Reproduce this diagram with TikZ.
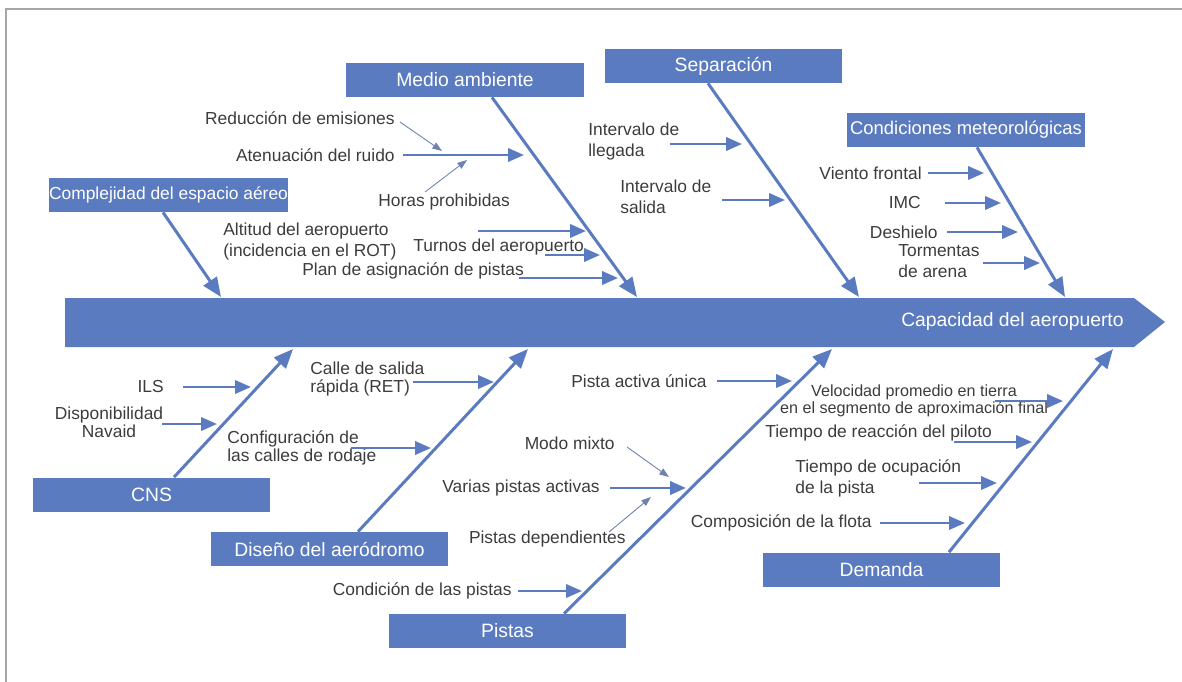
\documentclass[tikz,border=0pt]{standalone}
\usepackage{fontspec}
\setmainfont{Liberation Sans}
\usetikzlibrary{arrows.meta}

\definecolor{fishblue}{RGB}{91,123,192}
\definecolor{labelgray}{RGB}{60,60,60}
\definecolor{thinblue}{RGB}{110,130,175}

\tikzset{
  catbox/.style={fill=fishblue, text=white, minimum width=4.76cm, minimum height=0.68cm, inner sep=0pt, font=\fontsize{11}{13}\selectfont},
  cause/.style={text=labelgray, inner sep=0pt, font=\fontsize{9.9}{12}\selectfont},
  tight/.style={font=\fontsize{9.9}{10.2}\selectfont},
  bone/.style={draw=fishblue, line width=1.7pt, -{Triangle[length=11pt,width=9pt]}},
  twig/.style={draw=fishblue, line width=1.5pt, -{Triangle[length=9pt,width=7.5pt]}},
  hint/.style={draw=thinblue, line width=0.5pt, -{Triangle[length=5.5pt,width=4pt]}}
}

\begin{document}
\begin{tikzpicture}[x=0.02cm, y=-0.02cm]
		\useasboundingbox (0,0) rectangle (1182,682);
		\draw[gray!70, line width=1.2pt] (6,682) -- (6,9) -- (1182,9);
		
		% Hauptachse
		\fill[fishblue] (65,298) -- (1134,298) -- (1165,322) -- (1134,347) -- (65,347) -- cycle;
		\node[anchor=east, text=white, inner sep=0pt, font=\fontsize{11}{13}\selectfont] (kopf) at (1124,322) {Capacidad del aeropuerto};
		
		% Medio ambiente
		\node[catbox] (medio) at (465,80) {Medio ambiente};
		\coordinate (medio1) at (637,297);
		\draw[bone] ([xshift=0.54cm]medio.south) -- (medio1);
		\node[cause, anchor=east] (redu) at (395,118) {Reducción de emisiones};
		\node[cause, anchor=east] (aten) at (395,155) {Atenuación del ruido};
		\node[cause, anchor=west] (horas) at (378,202) {Horas prohibidas};
		\node[cause, anchor=west, align=left] (alti) at (223,241.5) {Altitud del aeropuerto\\(incidencia en el ROT)};
		\node[cause, anchor=west] (turnos) at (413,247) {Turnos del aeropuerto};
		\node[cause, anchor=west] (plan) at (302,271) {Plan de asignación de pistas};
		\coordinate (aten0) at (403,155); \coordinate (aten1) at (524,155);
		\coordinate (redu0) at (400,122); \coordinate (redu1) at (442,151);
		\coordinate (horas0) at (425,192); \coordinate (horas1) at (467,160);
		\coordinate (alti0) at (478,231); \coordinate (alti1) at (586,231);
		\coordinate (turnos0) at (545,255); \coordinate (turnos1) at (600,255);
		\coordinate (plan0) at (519,278); \coordinate (plan1) at (618,278);
		\draw[twig] (aten0) -- (aten1);
		\draw[hint] (redu0) -- (redu1);
		\draw[hint] (horas0) -- (horas1);
		\draw[twig] (alti0) -- (alti1);
		\draw[twig] (turnos0) -- (turnos1);
		\draw[twig] (plan0) -- (plan1);
		
		% Separacion
		\node[catbox] (sepa) at (723.5,66) {Separación};
		\coordinate (sepa1) at (859,297);
		\draw[bone] ([xshift=-0.31cm]sepa.south) -- (sepa1);
		\node[cause, anchor=west, align=left] (lleg) at (588,141.5) {Intervalo de\\llegada};
		\node[cause, anchor=west, align=left] (sali) at (620,196.5) {Intervalo de\\salida};
		\coordinate (lleg0) at (670,144); \coordinate (lleg1) at (742,144);
		\coordinate (sali0) at (722,200); \coordinate (sali1) at (785,200);
		\draw[twig] (lleg0) -- (lleg1);
		\draw[twig] (sali0) -- (sali1);
		
		% Condiciones meteorologicas
		\node[catbox, font=\fontsize{10.5}{12}\selectfont] (meteo) at (966,130) {Condiciones meteorológicas};
		\coordinate (meteo1) at (1065,297);
		\draw[bone] ([xshift=0.22cm]meteo.south) -- (meteo1);
		\node[cause, anchor=east] (viento) at (922,173) {Viento frontal};
		\node[cause, anchor=east] (imc) at (921,203) {IMC};
		\node[cause, anchor=east] (desh) at (938,232) {Deshielo};
		\node[cause, anchor=west, align=left] (torm) at (898,261.5) {Tormentas\\de arena};
		\coordinate (viento0) at (928,173); \coordinate (viento1) at (984,173);
		\coordinate (imc0) at (945,203); \coordinate (imc1) at (1001,203);
		\coordinate (desh0) at (947,232); \coordinate (desh1) at (1018,232);
		\coordinate (torm0) at (983,263); \coordinate (torm1) at (1040,263);
		\draw[twig] (viento0) -- (viento1);
		\draw[twig] (imc0) -- (imc1);
		\draw[twig] (desh0) -- (desh1);
		\draw[twig] (torm0) -- (torm1);
		
		% Complejidad del espacio aereo
		\node[catbox, font=\fontsize{9.9}{12}\selectfont] (compl) at (168.5,195) {Complejidad del espacio aéreo};
		\coordinate (compl1) at (221,297);
		\draw[bone] ([xshift=-0.11cm]compl.south) -- (compl1);
		
		% CNS
		\node[catbox] (cns) at (151.5,494.5) {CNS};
		\coordinate (cns1) at (293,349);
		\draw[bone] ([xshift=0.45cm]cns.north) -- (cns1);
		\node[cause, anchor=east] (ils) at (164,387) {ILS};
		\node[cause, tight, align=center] (navaid) at (109,422.5) {Disponibilidad\\Navaid};
		\coordinate (ils0) at (183,387); \coordinate (ils1) at (251,387);
		\coordinate (navaid0) at (162,424); \coordinate (navaid1) at (217,424);
		\draw[twig] (ils0) -- (ils1);
		\draw[twig] (navaid0) -- (navaid1);
		
		% Diseno del aerodromo
		\node[catbox] (diseno) at (329.5,549) {Diseño del aeródromo};
		\coordinate (diseno1) at (528,349);
		\draw[bone] ([xshift=0.57cm]diseno.north) -- (diseno1);
		\node[cause, tight, anchor=west, align=left] (ret) at (310,379) {Calle de salida\\rápida (RET)};
		\node[cause, tight, anchor=west, align=left] (rodaje) at (227,448) {Configuración de\\las calles de rodaje};
		\coordinate (ret0) at (413,382); \coordinate (ret1) at (494,382);
		\coordinate (rodaje0) at (351,448); \coordinate (rodaje1) at (431,448);
		\draw[twig] (ret0) -- (ret1);
		\draw[twig] (rodaje0) -- (rodaje1);
		
		% Pistas
		\node[catbox] (pistas) at (507.5,631) {Pistas};
		\coordinate (pistas1) at (832,349);
		\draw[bone] ([xshift=1.13cm]pistas.north) -- (pistas1);
		\node[cause, anchor=east] (unica) at (707,381) {Pista activa única};
		\node[cause, anchor=east] (mixto) at (615,443) {Modo mixto};
		\node[cause, anchor=east] (varias) at (600,488) {Varias pistas activas};
		\node[cause, anchor=east] (depend) at (626,539) {Pistas dependientes};
		\node[cause, anchor=east] (condi) at (512,591) {Condición de las pistas};
		\coordinate (unica0) at (717,381); \coordinate (unica1) at (792,381);
		\coordinate (mixto0) at (627,447); \coordinate (mixto1) at (669,477);
		\coordinate (varias0) at (610,488); \coordinate (varias1) at (686,488);
		\coordinate (depend0) at (609,532); \coordinate (depend1) at (651,497);
		\coordinate (condi0) at (518,591); \coordinate (condi1) at (582,591);
		\draw[twig] (unica0) -- (unica1);
		\draw[hint] (mixto0) -- (mixto1);
		\draw[twig] (varias0) -- (varias1);
		\draw[hint] (depend0) -- (depend1);
		\draw[twig] (condi0) -- (condi1);
		
		% Demanda
		\node[catbox] (demanda) at (881.5,569.5) {Demanda};
		\coordinate (demanda1) at (1113,349);
		\draw[bone] ([xshift=1.35cm]demanda.north) -- (demanda1);
		\node[cause, align=center, font=\fontsize{9.2}{9.6}\selectfont] (velo) at (914,401) {Velocidad promedio en tierra\\en el segmento de aproximación final};
		\node[cause, anchor=west] (reac) at (765,433) {Tiempo de reacción del piloto};
		\node[cause, anchor=west, align=left] (ocup) at (795,478.5) {Tiempo de ocupación\\de la pista};
		\node[cause, anchor=east] (flota) at (872,523) {Composición de la flota};
		\coordinate (velo0) at (995,401); \coordinate (velo1) at (1063,401);
		\coordinate (reac0) at (954,442); \coordinate (reac1) at (1032,442);
		\coordinate (ocup0) at (919,483); \coordinate (ocup1) at (997,483);
		\coordinate (flota0) at (880,523); \coordinate (flota1) at (965,523);
		\draw[twig] (velo0) -- (velo1);
		\draw[twig] (reac0) -- (reac1);
		\draw[twig] (ocup0) -- (ocup1);
		\draw[twig] (flota0) -- (flota1);
		
	\end{tikzpicture}
\end{document}
